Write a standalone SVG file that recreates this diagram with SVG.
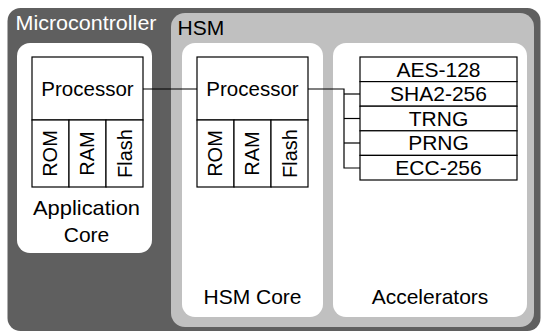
<svg xmlns="http://www.w3.org/2000/svg" width="542" height="332" viewBox="0 0 542 332">
<style>
text{font-family:"Liberation Sans",Arial,Helvetica,sans-serif;font-size:21px;fill:#000}
.c{text-anchor:middle}
.w{fill:#fff}
.p{font-size:20.5px}
.r{font-size:20px}
.box{fill:#fff;stroke:#000;stroke-width:1.2}
.panel{fill:#fff}
.ln{fill:none;stroke:#000;stroke-width:1.2}
</style>
<rect width="542" height="332" fill="#fff"/>
<g id="microcontroller">
<rect x="7.5" y="8" width="533" height="323" rx="13" fill="#5f5f5f"/>
<text x="15.5" y="30" class="w" textLength="141" lengthAdjust="spacingAndGlyphs">Microcontroller</text>
</g>
<g id="hsm">
<rect x="171" y="13" width="363" height="314" rx="14" fill="#c0c0c0"/>
<text x="177.5" y="35">HSM</text>
</g>
<g id="app-core">
<rect x="17" y="43" width="135" height="210" rx="13" class="panel"/>
<rect x="32" y="57" width="111" height="63" class="box"/>
<text x="87.5" y="96" class="c p">Processor</text>
<rect x="32" y="120" width="37" height="67" class="box"/>
<rect x="69" y="120" width="37" height="67" class="box"/>
<rect x="106" y="120" width="37" height="67" class="box"/>
<text transform="translate(56.5,153.5) rotate(-90)" class="c r">ROM</text>
<text transform="translate(94,153.5) rotate(-90)" class="c r">RAM</text>
<text transform="translate(132,153.5) rotate(-90)" class="c r">Flash</text>
<text x="86.5" y="215" class="c" textLength="107" lengthAdjust="spacingAndGlyphs">Application</text>
<text x="86.5" y="242" class="c">Core</text>
</g>
<g id="hsm-core">
<rect x="182" y="43" width="141" height="274" rx="13" class="panel"/>
<rect x="197" y="57" width="111" height="63" class="box"/>
<text x="252.5" y="96" class="c p">Processor</text>
<rect x="197" y="120" width="37" height="67" class="box"/>
<rect x="234" y="120" width="37" height="67" class="box"/>
<rect x="271" y="120" width="37" height="67" class="box"/>
<text transform="translate(221.5,153.5) rotate(-90)" class="c r">ROM</text>
<text transform="translate(259,153.5) rotate(-90)" class="c r">RAM</text>
<text transform="translate(297,153.5) rotate(-90)" class="c r">Flash</text>
<text x="252.5" y="304" class="c">HSM Core</text>
</g>
<g id="accelerators">
<rect x="333" y="43" width="194" height="274" rx="13" class="panel"/>
<rect x="360" y="57" width="157" height="24.6" class="box"/>
<rect x="360" y="81.6" width="157" height="24.6" class="box"/>
<rect x="360" y="106.2" width="157" height="24.6" class="box"/>
<rect x="360" y="130.8" width="157" height="24.6" class="box"/>
<rect x="360" y="155.4" width="157" height="24.6" class="box"/>
<text x="438.5" y="76.5" class="c">AES-128</text>
<text x="438.5" y="101.1" class="c">SHA2-256</text>
<text x="438.5" y="125.7" class="c">TRNG</text>
<text x="438.5" y="150.3" class="c">PRNG</text>
<text x="438.5" y="174.9" class="c">ECC-256</text>
<text x="430" y="304" class="c">Accelerators</text>
</g>
<g id="connectors">
<line x1="143" y1="89" x2="197" y2="89" class="ln"/>
<polyline points="308,89 344,89 344,168 360,168" class="ln"/>
<line x1="344" y1="94" x2="360" y2="94" class="ln"/>
<line x1="344" y1="118.5" x2="360" y2="118.5" class="ln"/>
<line x1="344" y1="143" x2="360" y2="143" class="ln"/>
</g>
</svg>
